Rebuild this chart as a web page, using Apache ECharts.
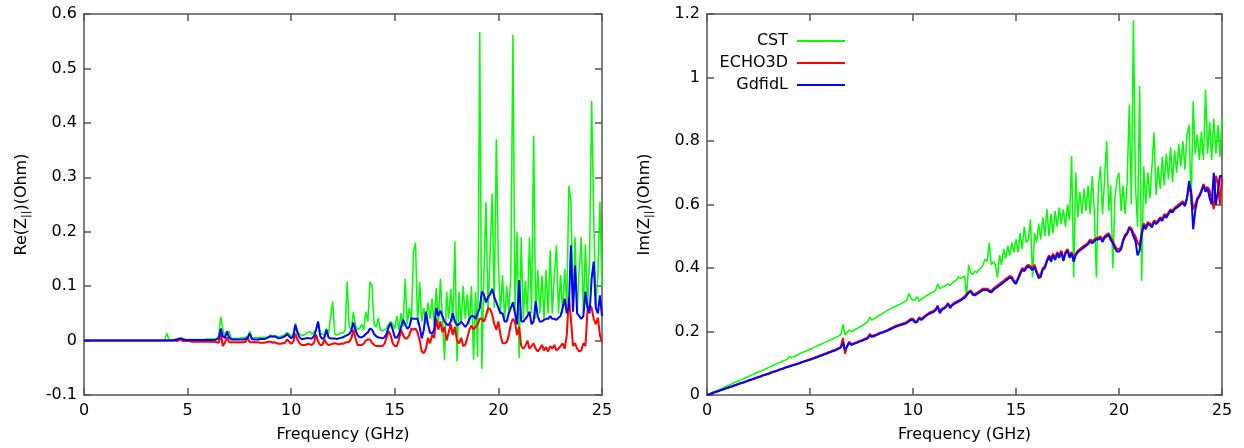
<!DOCTYPE html>
<html>
<head>
<meta charset="utf-8">
<script src="https://cdn.jsdelivr.net/npm/echarts@6/dist/echarts.min.js"></script>
<style>html,body{margin:0;padding:0;background:#fff}#c{width:1244px;height:448px}</style>
</head>
<body>
<div id="c"></div>
<script>
// Frequency grid: samples every 0.1 GHz from 0 to 25 GHz
const FREQ_STEP = 0.1;
const xTicks = [0, 5, 10, 15, 20, 25];
const reTicks = [-0.1, 0, 0.1, 0.2, 0.3, 0.4, 0.5, 0.6];
const imTicks = [0, 0.2, 0.4, 0.6, 0.8, 1, 1.2];
const seriesNames = ['CST', 'ECHO3D', 'GdfidL'];

// Re(Z||) values (Ohm), one per 0.1 GHz
const reCST = [
0,0,0,0,0,0,0,0,0,0,
0,0,0,0,0,0,0,0,0,0,
0,0,0,0,0,0,0,0,0,0,
0,0,0,0,0,0,0,0,0,0.002,
0.013,0.002,0.001,0.002,0.002,0.003,0.004,0.004,0.003,0.002,
0.002,0.002,0.002,0.002,0.002,0.002,0.002,0.002,0.002,0.003,
0.003,0.003,0.003,0.003,0.004,0.008,0.044,0.02,0.008,0.012,
0.017,0.005,0.004,0.004,0.004,0.004,0.005,0.005,0.006,0.008,
0.017,0.005,0.005,0.005,0.005,0.006,0.005,0.006,0.006,0.007,
0.01,0.008,0.009,0.008,0.007,0.008,0.009,0.011,0.015,0.012,
0.008,0.012,0.032,0.018,0.012,0.01,0.01,0.012,0.015,0.017,
0.012,0.015,0.02,0.035,0.014,0.012,0.01,0.022,0.012,0.044,
0.072,0.012,0.01,0.012,0.015,0.014,0.018,0.108,0.025,0.02,
0.053,0.028,0.02,0.022,0.03,0.02,0.053,0.035,0.108,0.101,
0.03,0.025,0.041,0.02,0.018,0.02,0.022,0.03,0.035,0.03,
0.022,0.045,0.02,0.05,0.025,0.114,0.03,0.06,0.035,0.163,
0.18,0.03,0.108,0.035,0.06,0.03,0.07,0.04,0.077,0.03,
0.096,0.03,0.114,0.04,-0.035,0.09,0.04,0.095,0.035,0.182,
-0.038,0.09,0.03,0.1,0.04,0.085,0.03,0.1,-0.035,0.09,
-0.03,0.567,-0.052,0.12,0.254,0.05,0.163,0.27,0.06,0.37,
0.14,0.05,0.12,0.04,0.1,0.05,0.12,0.562,0.05,0.2,
-0.032,0.19,0.04,0.11,0.05,0.19,0.05,0.376,0.04,0.13,
0.05,0.12,0.04,0.13,0.05,0.166,0.05,0.12,0.175,0.05,
0.12,0.05,0.132,0.06,0.284,0.255,0.06,0.19,0.05,0.13,
0.19,0.05,0.177,0.06,0.15,0.44,0.227,0.06,0.12,0.255,
0.1];
const reECHO = [
0,0,0,0,0,0,0,0,0,0,
0,0,0,0,0,0,0,0,0,0,
0,0,0,0,0,0,0,0,0,0,
0,0,0,0,0,0,0,0,0,0,
0,0,0,0,0,-0.001,0.002,0.001,-0.001,-0.001,
-0.001,-0.001,-0.002,-0.002,-0.002,-0.002,-0.002,-0.002,-0.002,-0.002,
-0.002,-0.002,-0.002,-0.002,-0.003,-0.004,0.012,-0.01,-0.004,0.006,
-0.003,-0.003,-0.003,-0.003,-0.003,-0.003,-0.003,-0.003,-0.002,0.005,
-0.003,-0.003,-0.003,-0.003,-0.003,-0.004,-0.004,-0.004,-0.003,-0.002,
-0.002,-0.004,-0.003,-0.005,-0.006,-0.006,-0.005,-0.004,0.002,-0.002,
-0.006,-0.002,0.013,0.002,-0.005,-0.008,-0.008,-0.008,-0.006,-0.007,
-0.008,-0.004,0.011,-0.002,-0.008,-0.008,0.002,-0.005,-0.008,-0.007,
-0.006,-0.005,-0.006,-0.007,-0.006,-0.006,-0.004,-0.003,-0.002,0.004,
0.02,0.005,-0.008,-0.008,-0.008,-0.006,0.0,0.002,0.002,-0.004,
-0.008,-0.01,-0.01,-0.01,-0.01,-0.006,0.005,0.017,0.01,-0.005,
-0.01,-0.01,0.002,0.02,0.01,0.004,0.004,0.01,0.022,0.02,
0.022,0.015,0.0,-0.02,-0.023,-0.015,0.005,-0.005,0.01,0.005,
0.04,0.02,0.035,0.015,0.025,0.0,0.015,0.03,0.01,0.025,
0.0,-0.005,0.005,-0.01,-0.008,0.005,0.02,0.028,0.02,0.025,
0.03,0.04,0.04,0.035,0.045,0.06,0.058,0.048,0.03,0.02,
0.035,0.01,-0.005,-0.005,-0.003,0.01,0.03,0.04,0.035,0.01,
0.025,-0.01,-0.015,-0.01,0.0,-0.015,-0.01,-0.005,-0.015,-0.02,
-0.015,-0.008,-0.018,-0.012,-0.02,-0.01,-0.015,-0.008,-0.018,-0.015,
-0.01,-0.005,-0.015,0.01,0.08,0.04,-0.01,-0.005,-0.015,-0.02,
-0.018,-0.005,-0.01,0.055,0.065,0.06,0.04,0.03,0.042,0.01,
-0.003];
const reGdfidL = [
0,0,0,0,0,0,0,0,0,0,
0,0,0,0,0,0,0,0,0,0,
0,0,0,0,0,0,0,0,0,0,
0,0,0,0,0,0,0,0,0,0,
0,0,0,0,0.001,0.002,0.004,0.004,0.002,0.001,
0.001,0.001,0.001,0.001,0.001,0.001,0.001,0.001,0.001,0.001,
0.001,0.001,0.001,0.001,0.002,0.004,0.022,0.008,0.005,0.017,
0.006,0.002,0.002,0.002,0.002,0.002,0.002,0.002,0.003,0.005,
0.013,0.003,0.002,0.002,0.002,0.003,0.003,0.003,0.004,0.006,
0.008,0.007,0.008,0.006,0.004,0.005,0.006,0.008,0.012,0.008,
0.004,0.008,0.029,0.015,0.006,0.003,0.003,0.004,0.005,0.004,
0.004,0.008,0.02,0.035,0.008,0.003,0.005,0.02,0.006,0.004,
0.004,0.004,0.003,0.004,0.005,0.006,0.008,0.01,0.012,0.018,
0.033,0.02,0.01,0.006,0.006,0.008,0.012,0.015,0.022,0.02,
0.012,0.008,0.006,0.005,0.004,0.006,0.012,0.025,0.032,0.02,
0.006,0.005,0.012,0.025,0.038,0.03,0.022,0.025,0.041,0.04,
0.04,0.04,0.025,0.004,0.02,0.053,0.03,0.015,0.012,0.02,
0.06,0.045,0.055,0.045,0.035,0.03,0.028,0.035,0.05,0.035,
0.028,0.03,0.035,0.03,0.025,0.03,0.04,0.045,0.045,0.04,
0.05,0.06,0.09,0.085,0.07,0.08,0.085,0.095,0.08,0.07,
0.06,0.05,0.05,0.035,0.035,0.05,0.06,0.07,0.05,0.03,
0.111,0.035,0.035,0.04,0.045,0.053,0.03,0.035,0.072,0.045,
0.035,0.035,0.038,0.04,0.04,0.045,0.04,0.04,0.038,0.042,
0.045,0.06,0.077,0.05,0.06,0.175,0.053,0.138,0.05,0.045,
0.04,0.045,0.09,0.06,0.05,0.114,0.145,0.06,0.05,0.083,
0.045];

// Im(Z||) values (Ohm), one per 0.1 GHz
const imCST = [
0,0.003,0.006,0.009,0.012,0.015,0.017,0.02,0.023,0.026,
0.029,0.032,0.035,0.038,0.041,0.044,0.046,0.049,0.052,0.055,
0.058,0.061,0.064,0.067,0.07,0.073,0.075,0.078,0.081,0.084,
0.087,0.09,0.093,0.096,0.099,0.102,0.104,0.107,0.11,0.113,
0.122,0.117,0.12,0.123,0.126,0.13,0.133,0.136,0.138,0.141,
0.144,0.147,0.15,0.153,0.156,0.159,0.162,0.165,0.168,0.171,
0.174,0.177,0.18,0.183,0.186,0.19,0.222,0.19,0.196,0.205,
0.2,0.203,0.207,0.21,0.214,0.218,0.222,0.226,0.23,0.245,
0.236,0.24,0.244,0.248,0.252,0.256,0.26,0.264,0.268,0.272,
0.275,0.278,0.281,0.284,0.287,0.29,0.294,0.298,0.32,0.305,
0.298,0.3,0.31,0.295,0.302,0.306,0.31,0.315,0.318,0.322,
0.325,0.33,0.35,0.335,0.338,0.342,0.345,0.35,0.345,0.352,
0.358,0.362,0.372,0.368,0.37,0.375,0.31,0.41,0.385,0.38,
0.39,0.385,0.395,0.4,0.41,0.428,0.42,0.479,0.41,0.42,
0.41,0.37,0.44,0.41,0.46,0.43,0.47,0.44,0.48,0.45,
0.49,0.45,0.51,0.46,0.53,0.48,0.49,0.553,0.37,0.51,
0.48,0.54,0.49,0.56,0.5,0.585,0.5,0.57,0.51,0.58,
0.53,0.59,0.54,0.585,0.53,0.6,0.55,0.753,0.37,0.7,
0.56,0.64,0.57,0.65,0.58,0.66,0.57,0.69,0.58,0.37,
0.66,0.72,0.57,0.68,0.8,0.58,0.66,0.4,0.62,0.68,
0.7,0.58,0.66,0.57,0.68,0.915,0.6,1.18,0.66,0.53,
0.973,0.36,0.72,0.6,0.7,0.62,0.72,0.827,0.63,0.72,
0.65,0.75,0.66,0.76,0.68,0.78,0.67,0.77,0.7,0.79,
0.72,0.8,0.71,0.82,0.85,0.6,0.925,0.76,0.82,0.74,
0.83,0.74,0.962,0.76,0.86,0.74,0.87,0.76,0.85,0.75,
0.87];
const imECHO = [
0,0.002,0.005,0.007,0.009,0.011,0.014,0.016,0.018,0.021,
0.023,0.025,0.027,0.03,0.032,0.034,0.037,0.039,0.041,0.043,
0.046,0.048,0.05,0.052,0.055,0.057,0.059,0.062,0.064,0.066,
0.068,0.071,0.073,0.075,0.077,0.08,0.082,0.084,0.087,0.089,
0.091,0.093,0.095,0.097,0.099,0.101,0.104,0.106,0.108,0.11,
0.113,0.115,0.117,0.12,0.122,0.125,0.127,0.13,0.132,0.135,
0.137,0.14,0.142,0.145,0.148,0.151,0.18,0.13,0.155,0.168,
0.16,0.162,0.165,0.167,0.17,0.172,0.175,0.178,0.18,0.192,
0.186,0.188,0.19,0.193,0.196,0.198,0.2,0.203,0.206,0.21,
0.213,0.216,0.219,0.221,0.223,0.225,0.227,0.23,0.235,0.24,
0.24,0.232,0.232,0.245,0.24,0.245,0.25,0.255,0.26,0.262,
0.265,0.27,0.282,0.262,0.272,0.275,0.28,0.29,0.278,0.285,
0.29,0.294,0.297,0.3,0.305,0.31,0.318,0.325,0.33,0.32,
0.318,0.322,0.326,0.33,0.335,0.335,0.335,0.33,0.328,0.335,
0.34,0.345,0.35,0.355,0.36,0.365,0.37,0.375,0.372,0.36,
0.355,0.37,0.385,0.4,0.395,0.405,0.41,0.405,0.4,0.41,
0.39,0.375,0.38,0.4,0.405,0.425,0.44,0.43,0.445,0.43,
0.45,0.44,0.455,0.43,0.45,0.46,0.44,0.45,0.43,0.445,
0.455,0.46,0.465,0.47,0.475,0.48,0.49,0.485,0.49,0.495,
0.495,0.5,0.49,0.5,0.505,0.51,0.495,0.485,0.47,0.46,
0.46,0.465,0.49,0.505,0.512,0.53,0.525,0.51,0.5,0.48,
0.47,0.51,0.54,0.53,0.545,0.54,0.535,0.55,0.545,0.55,
0.56,0.555,0.57,0.565,0.575,0.585,0.58,0.59,0.595,0.6,
0.605,0.61,0.6,0.62,0.65,0.64,0.585,0.6,0.62,0.63,
0.645,0.664,0.65,0.655,0.645,0.62,0.585,0.69,0.67,0.6,
0.686];
const imGdfidL = [
0,0.002,0.004,0.007,0.009,0.011,0.013,0.016,0.018,0.02,
0.022,0.025,0.027,0.029,0.031,0.034,0.036,0.038,0.04,0.043,
0.045,0.047,0.049,0.052,0.054,0.056,0.058,0.061,0.063,0.065,
0.067,0.07,0.072,0.074,0.076,0.079,0.081,0.083,0.086,0.088,
0.09,0.092,0.094,0.096,0.098,0.1,0.103,0.105,0.107,0.109,
0.111,0.113,0.116,0.118,0.12,0.123,0.125,0.128,0.13,0.133,
0.135,0.138,0.14,0.143,0.146,0.15,0.165,0.142,0.152,0.165,
0.157,0.16,0.163,0.165,0.168,0.17,0.173,0.176,0.178,0.188,
0.183,0.185,0.188,0.191,0.194,0.196,0.198,0.201,0.204,0.207,
0.21,0.213,0.216,0.218,0.22,0.222,0.224,0.227,0.232,0.237,
0.236,0.228,0.23,0.242,0.236,0.242,0.247,0.252,0.256,0.259,
0.262,0.267,0.278,0.258,0.268,0.272,0.277,0.287,0.274,0.282,
0.287,0.29,0.294,0.297,0.302,0.306,0.314,0.322,0.326,0.316,
0.314,0.318,0.322,0.326,0.331,0.331,0.331,0.326,0.323,0.33,
0.336,0.34,0.345,0.35,0.355,0.36,0.365,0.37,0.367,0.355,
0.35,0.365,0.38,0.395,0.39,0.4,0.405,0.4,0.393,0.403,
0.385,0.368,0.372,0.395,0.4,0.42,0.436,0.42,0.44,0.425,
0.445,0.432,0.45,0.422,0.445,0.455,0.432,0.445,0.42,0.44,
0.45,0.455,0.46,0.465,0.47,0.475,0.485,0.478,0.485,0.49,
0.49,0.495,0.482,0.495,0.5,0.505,0.488,0.478,0.462,0.452,
0.452,0.458,0.485,0.5,0.508,0.525,0.52,0.5,0.485,0.44,
0.455,0.505,0.535,0.522,0.54,0.535,0.528,0.545,0.538,0.545,
0.555,0.548,0.565,0.558,0.57,0.58,0.575,0.585,0.59,0.595,
0.6,0.605,0.595,0.62,0.674,0.64,0.522,0.58,0.615,0.625,
0.64,0.66,0.64,0.65,0.62,0.6,0.7,0.6,0.64,0.69,
0.69];

const colors = ['#00ff00', '#ff0000', '#0000ff'];
const widths = [1.5, 2, 2];
const FONT = 'DejaVu Sans';
const FS = 16;
const frameColor = '#555555';

function pairs(vals) {
  return vals.map((v, i) => [Math.round(i * FREQ_STEP * 10) / 10, v]);
}

function xAx(gi, pos, withLabel) {
  return {
    type: 'value', gridIndex: gi, position: pos,
    min: xTicks[0], max: xTicks[xTicks.length - 1], interval: xTicks[1] - xTicks[0],
    axisLine: { show: true, onZero: false, lineStyle: { color: frameColor, width: 1.5 } },
    axisTick: { show: true, inside: true, length: 7, lineStyle: { color: frameColor, width: 1.5 } },
    axisLabel: { show: withLabel, color: '#000', fontFamily: FONT, fontSize: FS, margin: 8 },
    splitLine: { show: false },
    name: withLabel ? 'Frequency (GHz)' : '',
    nameLocation: 'middle', nameGap: 32,
    nameTextStyle: { color: '#000', fontFamily: FONT, fontSize: FS }
  };
}
function yAx(gi, pos, ticks, withLabel, title) {
  return {
    type: 'value', gridIndex: gi, position: pos,
    min: ticks[0], max: ticks[ticks.length - 1], interval: ticks[1] - ticks[0],
    axisLine: { show: true, onZero: false, lineStyle: { color: frameColor, width: 1.5 } },
    axisTick: { show: true, inside: true, length: 7, lineStyle: { color: frameColor, width: 1.5 } },
    axisLabel: { show: withLabel, color: '#000', fontFamily: FONT, fontSize: FS, margin: 7,
      formatter: v => String(Math.round(v * 10) / 10) },
    splitLine: { show: false },
    name: withLabel ? title : '',
    nameLocation: 'middle', nameGap: 52,
    nameTextStyle: { color: '#000', fontFamily: FONT, fontSize: FS, lineHeight: 20,
      rich: { s: { fontFamily: FONT, fontSize: 11, lineHeight: 11, verticalAlign: 'bottom', color: '#000' } } }
  };
}

const reData = [reCST, reECHO, reGdfidL];
const imData = [imCST, imECHO, imGdfidL];
const series = [];
reData.forEach((d, k) => series.push({
  name: seriesNames[k], type: 'line', xAxisIndex: 0, yAxisIndex: 0,
  data: pairs(d), showSymbol: false, symbol: 'none',
  lineStyle: { color: colors[k], width: widths[k] }, itemStyle: { color: colors[k] },
  z: 2 + k
}));
imData.forEach((d, k) => series.push({
  name: seriesNames[k], type: 'line', xAxisIndex: 2, yAxisIndex: 2,
  data: pairs(d), showSymbol: false, symbol: 'none',
  lineStyle: { color: colors[k], width: widths[k] }, itemStyle: { color: colors[k] },
  z: 2 + k
}));

const chart = echarts.init(document.getElementById('c'), null, { renderer: 'canvas' });
chart.setOption({
  animation: false,
  backgroundColor: '#fff',
  grid: [
    { left: 84, top: 14, width: 518, height: 383 },
    { left: 707, top: 14, width: 515, height: 382 }
  ],
  xAxis: [xAx(0, 'bottom', true), xAx(0, 'top', false), xAx(1, 'bottom', true), xAx(1, 'top', false)],
  yAxis: [
    yAx(0, 'left', reTicks, true, 'Re(Z{s|||})(Ohm)'), yAx(0, 'right', reTicks, false, ''),
    yAx(1, 'left', imTicks, true, 'Im(Z{s|||})(Ohm)'), yAx(1, 'right', imTicks, false, '')
  ],
  legend: {
    data: seriesNames, orient: 'vertical', align: 'right',
    right: 399, top: 32, padding: 0, itemGap: 4,
    icon: 'rect', itemWidth: 48, itemHeight: 2,
    textStyle: { color: '#000', fontFamily: FONT, fontSize: FS, lineHeight: 18, padding: [0, 4, 0, 0] },
    selectedMode: false
  },
  series: series
});
</script>
</body>
</html>
